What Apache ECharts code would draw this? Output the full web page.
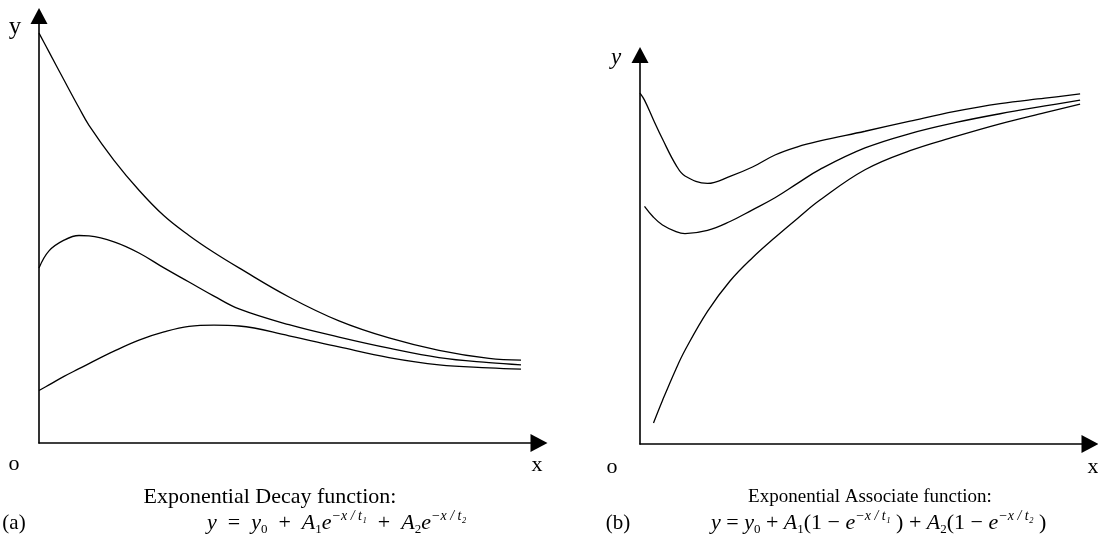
<!DOCTYPE html>
<html>
<head>
<meta charset="utf-8">
<script src="https://cdn.jsdelivr.net/npm/echarts@6/dist/echarts.min.js"></script>
<style>
  html, body { margin: 0; padding: 0; background: #fff; }
  #chart { width: 1098px; height: 547px; }
</style>
</head>
<body>
<div id="chart"></div>
<script>
// ---------------------------------------------
// (a) exponential decay, x and three curves
// ---------------------------------------------
const decayX = [0, 2, 5, 8, 10, 15, 20, 25, 30, 35, 40, 50, 60, 70, 80, 90, 96.4];
const decayTop = [96.0, 91.6, 85.0, 78.5, 74.4, 66.2, 59.2, 53.2, 48.6, 44.6, 41.0, 34.2, 28.6, 24.6, 21.7, 19.8, 19.4];
const decayMid = [41.0, 45.0, 47.5, 48.6, 48.5, 47.1, 44.5, 41.0, 37.7, 34.4, 31.4, 27.7, 24.8, 22.2, 20.0, 18.8, 18.3];
const decayLow = [12.3, 13.6, 15.6, 17.4, 18.6, 21.5, 24.1, 26.0, 27.3, 27.6, 27.4, 25.1, 22.5, 20.0, 18.3, 17.6, 17.3];

// ---------------------------------------------
// (b) exponential associate, x and three curves
// ---------------------------------------------
const assocX = [0, 1, 3, 5, 8, 10, 15, 20, 25, 30, 35, 40, 50, 60, 70, 80, 90, 97.8];
const assocTop = [90.2, 88.4, 83.3, 78.4, 71.7, 68.9, 67.0, 68.8, 71.2, 74.3, 76.4, 77.9, 80.4, 83.0, 85.5, 87.5, 88.9, 90.0];
const assocMid = [null, 61.1, 58.3, 56.3, 54.6, 54.1, 54.9, 57.2, 60.2, 63.3, 67.0, 70.6, 76.1, 79.8, 82.6, 84.9, 86.9, 88.4];
const assocLow = [null, null, 5.4, 11.2, 19.3, 24.1, 34.1, 41.9, 47.9, 53.1, 58.0, 62.7, 70.5, 75.4, 79.0, 82.3, 85.2, 87.4];

const FONT = "Liberation Serif";

function pairs(xs, ys) {
    return xs.map((x, i) => [x, ys[i]]);
}

function curve(xs, ys, idx) {
    return {
        type: "line",
        xAxisIndex: idx,
        yAxisIndex: idx,
        data: pairs(xs, ys),
        smooth: 0.4,
        symbol: "none",
        connectNulls: false,
        lineStyle: { color: "#000", width: 1.3 },
        silent: true
    };
}

function axis(idx, size) {
    return {
        type: "value",
        gridIndex: idx,
        min: 0,
        max: 100,
        axisLine: {
            show: true,
            onZero: false,
            symbol: ["none", "triangle"],
            symbolSize: size,
            lineStyle: { color: "#000", width: 1.6 }
        },
        axisTick: { show: false },
        axisLabel: { show: false },
        splitLine: { show: false }
    };
}

// rich text styles for the formulas
const formulaRich = {
    i: { fontFamily: FONT, fontStyle: "italic", fontSize: 22, lineHeight: 34, verticalAlign: "middle", fill: "#000" },
    n: { fontFamily: FONT, fontSize: 22, lineHeight: 34, verticalAlign: "middle", fill: "#000" },
    sub: { fontFamily: FONT, fontSize: 13, lineHeight: 13, verticalAlign: "bottom", padding: [0, 0, 4, 0], fill: "#000" },
    sup: { fontFamily: FONT, fontStyle: "italic", fontSize: 14, lineHeight: 14, verticalAlign: "top", padding: [3, 0, 0, 0], fill: "#000" }
};

function label(text, x, y, size, italic) {
    return {
        type: "text",
        x: x,
        y: y,
        style: {
            text: text,
            fontFamily: FONT,
            fontSize: size,
            fontStyle: italic ? "italic" : "normal",
            fill: "#000",
            align: "center",
            verticalAlign: "middle"
        }
    };
}

function formula(text, x, y) {
    return {
        type: "text",
        x: x,
        y: y,
        style: {
            text: text,
            rich: formulaRich,
            align: "left",
            verticalAlign: "middle"
        }
    };
}

const chart = echarts.init(document.getElementById("chart"));

chart.setOption({
    animation: false,
    backgroundColor: "#fff",
    grid: [
        { left: 39, top: 16, width: 500, height: 427 },
        { left: 640, top: 55, width: 450, height: 389 }
    ],
    xAxis: [axis(0, [18, 17]), axis(1, [18, 17])],
    yAxis: [axis(0, [17, 16]), axis(1, [17, 16])],
    series: [
        curve(decayX, decayTop, 0),
        curve(decayX, decayMid, 0),
        curve(decayX, decayLow, 0),
        curve(assocX, assocTop, 1),
        curve(assocX, assocMid, 1),
        curve(assocX, assocLow, 1)
    ],
    graphic: [
        label("y", 15, 27, 25, false),
        label("o", 14, 464, 22, false),
        label("x", 537, 465, 22, false),
        label("Exponential Decay function:", 270, 497, 22, false),
        label("(a)", 14, 523, 21, false),
        formula("{i|y}{n|  =  }{i|y}{sub|0}{n|  +  }{i|A}{sub|1}{i|e}{sup|−x / t₁}{n|  +  }{i|A}{sub|2}{i|e}{sup|−x / t₂}", 207, 523),

        label("y", 616, 58, 23, true),
        label("o", 612, 467, 22, false),
        label("x", 1093, 467, 22, false),
        label("Exponential Associate function:", 870, 497, 19, false),
        label("(b)", 618, 523, 21, false),
        formula("{i|y}{n| = }{i|y}{sub|0}{n| + }{i|A}{sub|1}{n|(1 − }{i|e}{sup|−x / t₁}{n| )}{n| + }{i|A}{sub|2}{n|(1 − }{i|e}{sup|−x / t₂}{n| )}", 711, 523)
    ]
});

window.addEventListener("resize", function () {
    chart.resize();
});
</script>
</body>
</html>
